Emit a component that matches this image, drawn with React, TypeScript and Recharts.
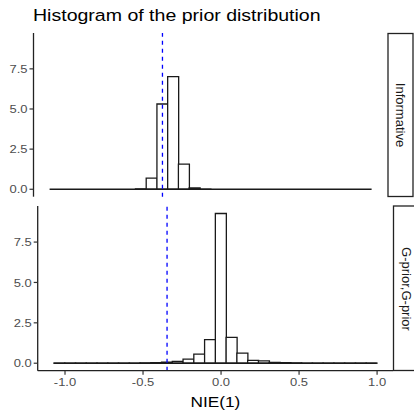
import React from "react";
import { Bar, ComposedChart, ReferenceLine, XAxis, YAxis } from "recharts";

// bin centres shared by both panels (30 bins)
const binCenters = [
  -1.037, -0.968, -0.899, -0.83, -0.761, -0.692, -0.623, -0.554, -0.485, -0.416,
  -0.347, -0.278, -0.209, -0.14, -0.071, -0.002, 0.067, 0.136, 0.205, 0.274,
  0.343, 0.412, 0.481, 0.55, 0.619, 0.688, 0.757, 0.826, 0.895, 0.964,
];

const informativeDensity = [
  0, 0, 0, 0, 0, 0, 0, 0, 0.02, 0.69,
  5.31, 7.02, 1.56, 0.08, 0.005, 0, 0, 0, 0, 0,
  0, 0, 0, 0, 0, 0, 0, 0, 0, 0,
];

const gPriorDensity = [
  0.005, 0.005, 0.005, 0.005, 0.005, 0.005, 0.005, 0.01, 0.02, 0.04,
  0.07, 0.12, 0.25, 0.56, 1.46, 9.27, 1.6, 0.62, 0.17, 0.15,
  0.05, 0.03, 0.02, 0.01, 0.005, 0.005, 0.005, 0.005, 0.005, 0.005,
];

const trueValue = -0.346;
const yTicks = [0, 2.5, 5, 7.5];
const xTicks = [-1, -0.5, 0, 0.5, 1];
const panelLabels = ["Informative", "G-prior,G-prior"];

const FONT = "'Liberation Sans', Arial, Helvetica, sans-serif";
const STRETCH = 1.15;

const halfBin = (binCenters[1] - binCenters[0]) / 2;
const firstEdge = binCenters[0] - halfBin;
const lastEdge = binCenters[binCenters.length - 1] + halfBin;
const xPad = (lastEdge - firstEdge) * 0.05;
const xDomain: [number, number] = [firstEdge - xPad, lastEdge + xPad];

const yMax = Math.max(...informativeDensity, ...gPriorDensity);
const yDomain: [number, number] = [-yMax * 0.05, yMax * 1.05];

const toRows = (dens: number[]) => binCenters.map((x, i) => ({ x, h: dens[i] }));

function YTick(props: any) {
  const { x, y, payload } = props;
  return (
    <g transform={`translate(${x},${y}) scale(${STRETCH},1)`}>
      <text textAnchor="end" dy="0.36em" fill="#4d4d4d" fontSize={11.3} fontFamily={FONT}>
        {Number(payload.value).toFixed(1)}
      </text>
    </g>
  );
}

function XTick(props: any) {
  const { x, y, payload } = props;
  return (
    <g transform={`translate(${x},${y}) scale(${STRETCH},1)`}>
      <text textAnchor="middle" dy="0.71em" fill="#4d4d4d" fontSize={11.3} fontFamily={FONT}>
        {Number(payload.value).toFixed(1)}
      </text>
    </g>
  );
}

function Panel({ dens, showX, margin, height }: { dens: number[]; showX: boolean; margin: any; height: number }) {
  return (
    <ComposedChart width={414} height={height} data={toRows(dens)} margin={margin} barCategoryGap={0} barGap={0}>
      <XAxis
        type="number"
        dataKey="x"
        domain={xDomain}
        allowDataOverflow
        ticks={xTicks}
        hide={!showX}
        height={20}
        tick={<XTick />}
        tickSize={4}
        tickMargin={3}
        axisLine={{ stroke: "#222", strokeWidth: 1.3 }}
        tickLine={{ stroke: "#333", strokeWidth: 1.2 }}
      />
      <YAxis
        type="number"
        domain={yDomain}
        allowDataOverflow
        ticks={yTicks}
        width={30}
        tick={<YTick />}
        tickSize={4}
        tickMargin={2}
        axisLine={{ stroke: "#222", strokeWidth: 1.3 }}
        tickLine={{ stroke: "#333", strokeWidth: 1.2 }}
      />
      <ReferenceLine
        segment={[
          { x: firstEdge, y: 0 },
          { x: lastEdge, y: 0 },
        ]}
        stroke="#1a1a1a"
        strokeWidth={1.5}
      />
      <Bar dataKey="h" fill="#ffffff" stroke="#1a1a1a" strokeWidth={1.3} isAnimationActive={false} />
      <ReferenceLine x={trueValue} stroke="#0000ff" strokeWidth={1.3} strokeDasharray="4 4" />
    </ComposedChart>
  );
}

export default function App() {
  return (
    <div style={{ position: "absolute", left: 0, top: 0, width: 414, height: 410, background: "#fff" }}>
      <div style={{ position: "absolute", left: 0, top: 0 }}>
        <Panel dens={informativeDensity} showX={false} height={200} margin={{ top: 33, right: 26.3, bottom: 3.3, left: 3.5 }} />
      </div>
      <div style={{ position: "absolute", left: 0, top: 200 }}>
        <Panel dens={gPriorDensity} showX height={210} margin={{ top: 6, right: 21, bottom: 19.3, left: 7.7 }} />
      </div>
      <svg width={414} height={410} style={{ position: "absolute", left: 0, top: 0, pointerEvents: "none" }}>
        <text transform={`translate(33,21) scale(${STRETCH},1)`} fontSize={17} fontFamily={FONT} fill="#000">
          Histogram of the prior distribution
        </text>
        <rect x={388} y={33.5} width={25} height={163} fill="#fff" stroke="#222" strokeWidth={1.3} />
        <text
          transform="translate(400.5,115) rotate(90)"
          textAnchor="middle"
          dominantBaseline="central"
          fontSize={13}
          fontFamily={FONT}
          fill="#1a1a1a"
        >
          {panelLabels[0]}
        </text>
        <rect x={393.5} y={206} width={25} height={164.5} fill="#fff" stroke="#222" strokeWidth={1.3} />
        <text
          transform="translate(406,289) rotate(90)"
          textAnchor="middle"
          dominantBaseline="central"
          fontSize={13}
          fontFamily={FONT}
          fill="#1a1a1a"
        >
          {panelLabels[1]}
        </text>
        <text transform={`translate(215.4,406.5) scale(${STRETCH},1)`} textAnchor="middle" fontSize={15} fontFamily={FONT} fill="#000">
          NIE(1)
        </text>
      </svg>
    </div>
  );
}
